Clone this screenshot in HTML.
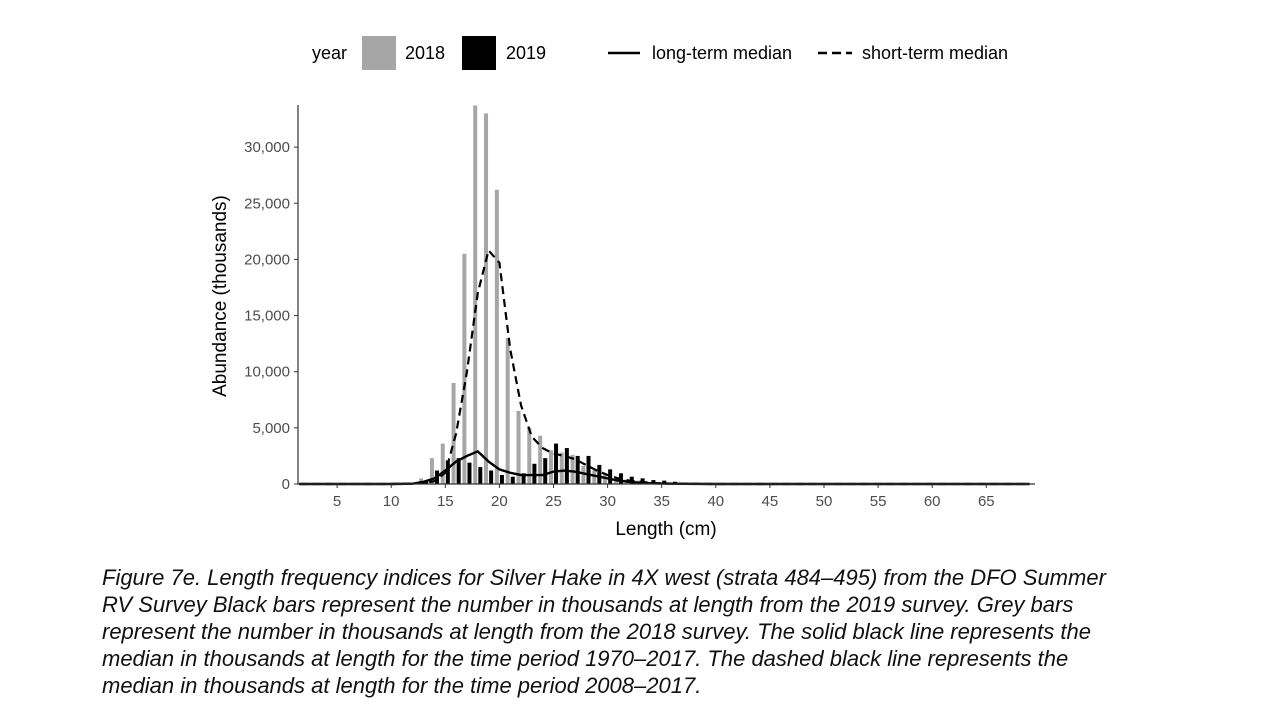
<!DOCTYPE html>
<html><head><meta charset="utf-8"><style>
body{margin:0;width:1280px;height:720px;background:#fff;font-family:"Liberation Sans",sans-serif;overflow:hidden;position:relative}
#cap{position:absolute;left:102px;top:564px;font-style:italic;font-size:22px;line-height:27px;color:#111;width:1150px;white-space:nowrap}
</style></head><body>
<svg width="1280" height="560" style="position:absolute;left:0;top:0" id="svg" font-family="Liberation Sans, sans-serif"></svg>
<div id="cap">Figure 7e. Length frequency indices for Silver Hake in 4X west (strata 484–495) from the DFO Summer<br>RV Survey Black bars represent the number in thousands at length from the 2019 survey. Grey bars<br>represent the number in thousands at length from the 2018 survey. The solid black line represents the<br>median in thousands at length for the time period 1970–2017. The dashed black line represents the<br>median in thousands at length for the time period 2008–2017.</div>
<script>
const lengths2018=[12,13,14,15,16,17,18,19,20,21,22,23,24,25,26,27,28,29,30,31,32,33,34,35];
const values2018=[100,500,2300,3600,9000,20500,33700,33000,26200,13000,6500,5000,4300,3000,2800,2600,1600,1200,900,500,400,300,200,100];
const lengths2019=[12,13,14,15,16,17,18,19,20,21,22,23,24,25,26,27,28,29,30,31,32,33,34,35,36,37,38];
const values2019=[80,300,1200,2100,2300,1900,1500,1200,800,650,950,1800,2300,3600,3200,2500,2500,1700,1300,950,650,500,350,300,200,120,80];
const lineX=[1.5,10,12,13,14,15,16,17,18,19,20,21,22,23,24,25,26,27,28,29,30,31,32,33,34,35,37,40,69];
const longTerm=[0,0,30,200,500,1200,2000,2500,2900,2000,1300,1000,800,800,800,1100,1200,1100,900,700,500,300,200,100,60,40,20,0,0];
const shortTerm=[0,0,30,100,250,1000,4500,10000,17000,20800,19700,12000,7000,4200,3200,2700,2500,2200,1700,1200,800,500,300,200,100,50,20,0,0];
const xTicks=[5,10,15,20,25,30,35,40,45,50,55,60,65];
const yTicks=[0,5000,10000,15000,20000,25000,30000];
const NS='http://www.w3.org/2000/svg',svg=document.getElementById('svg');
const X=v=>283+v*10.82, Y=v=>484-v*0.01123;
function mk(t,a,txt){const e=document.createElementNS(NS,t);for(const k in a)e.setAttribute(k,a[k]);if(txt!=null)e.textContent=txt;svg.appendChild(e);return e;}
lengths2018.forEach((l,i)=>{const e=mk('rect',{x:X(l-0.42),y:Y(values2018[i]),width:4,height:484-Y(values2018[i]),fill:'#a6a6a6'});

});
lengths2019.forEach((l,i)=>{const e=mk('rect',{x:X(l+0.05),y:Y(values2019[i]),width:4,height:484-Y(values2019[i]),fill:'#000'});

});
const pts=a=>lineX.map((x,i)=>X(x)+','+Y(a[i])).join(' ');
let lt=mk('polyline',{points:pts(longTerm),fill:'none',stroke:'#000','stroke-width':2.4});


let st=mk('polyline',{points:pts(shortTerm),fill:'none',stroke:'#000','stroke-width':2.2,'stroke-dasharray':'8,5'});


let ax=mk('path',{d:'M298,105V484H1035',fill:'none',stroke:'#333','stroke-width':1.2});


xTicks.forEach(t=>{mk('line',{x1:X(t),x2:X(t),y1:484,y2:488,stroke:'#333'});
const e=mk('text',{x:X(t),y:506,'text-anchor':'middle','font-size':15,fill:'#4d4d4d'},t);

});
yTicks.forEach(t=>{mk('line',{x1:294,x2:298,y1:Y(t),y2:Y(t),stroke:'#333'});
const e=mk('text',{x:290,y:Y(t)+5,'text-anchor':'end','font-size':15,fill:'#4d4d4d'},t.toLocaleString('en-US'));

});
let xt=mk('text',{x:666,y:535,'text-anchor':'middle','font-size':19},'Length (cm)');

let yt=mk('text',{x:0,y:0,'text-anchor':'middle','font-size':19,transform:'translate(226,296) rotate(-90)'},'Abundance (thousands)');

mk('text',{x:312,y:59,'font-size':18},'year');
let l1=mk('rect',{x:362,y:36,width:34,height:34,fill:'#a6a6a6'});
mk('text',{x:405,y:59,'font-size':18},'2018');
let l2=mk('rect',{x:462,y:36,width:34,height:34,fill:'#000'});
mk('text',{x:506,y:59,'font-size':18},'2019');
let l3=mk('line',{x1:608,x2:640,y1:53,y2:53,stroke:'#000','stroke-width':2.5});
mk('text',{x:652,y:59,'font-size':18},'long-term median');
let l4=mk('line',{x1:818,x2:852,y1:53,y2:53,stroke:'#000','stroke-width':2.5,'stroke-dasharray':'9,5'});
mk('text',{x:862,y:59,'font-size':18},'short-term median');
</script>
</body></html>
